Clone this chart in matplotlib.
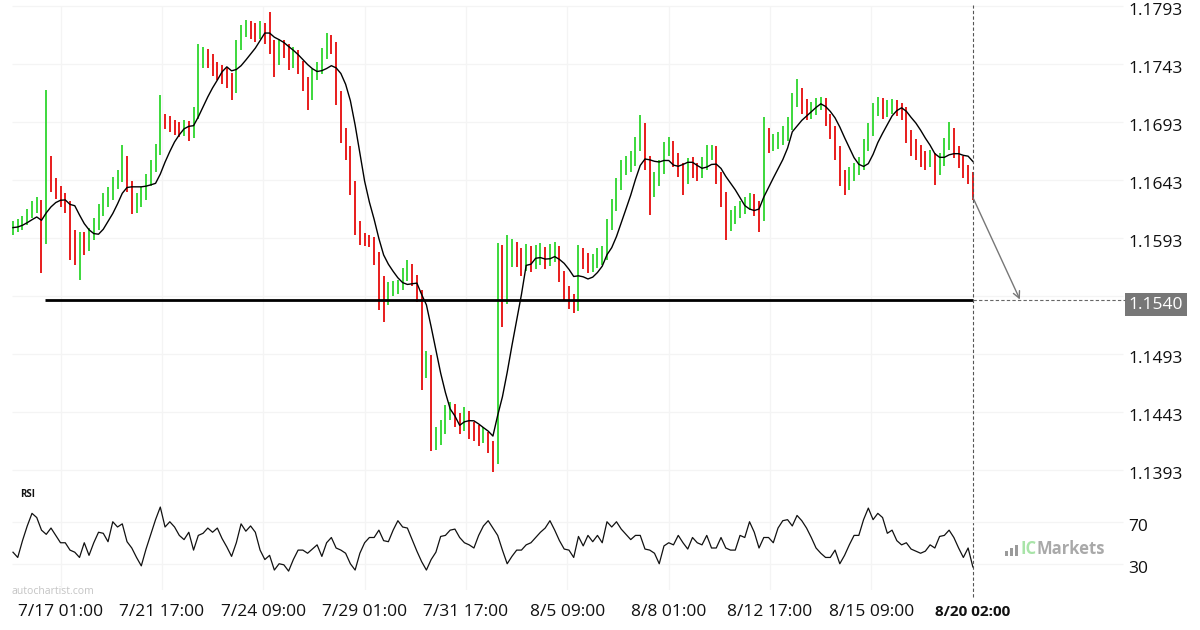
import numpy as np
import pandas as pd
import matplotlib
matplotlib.use('Agg')
import matplotlib.pyplot as plt
from matplotlib import transforms
from matplotlib.patches import Rectangle

plt.rcParams['font.family'] = ['Open Sans', 'DejaVu Sans']

# 3-hour bars, EURUSD-style quotes
close = [
    1.1602, 1.1603, 1.1607, 1.1613, 1.1619, 1.1623, 1.1591, 1.1647, 1.1639, 1.1633,
    1.1627, 1.1621, 1.1596, 1.1583, 1.1591, 1.1587, 1.1596, 1.1604, 1.1617, 1.1626,
    1.1630, 1.1639, 1.1645, 1.1660, 1.1639, 1.1621, 1.1626, 1.1630, 1.1643, 1.1653,
    1.1669, 1.1695, 1.1693, 1.1690, 1.1688, 1.1686, 1.1689, 1.1684, 1.1699, 1.1746,
    1.1751, 1.1748, 1.1740, 1.1736, 1.1734, 1.1729, 1.1722, 1.1759, 1.1771, 1.1774,
    1.1772, 1.1770, 1.1774, 1.1768, 1.1759, 1.1746, 1.1759, 1.1755, 1.1746, 1.1751,
    1.1742, 1.1729, 1.1716, 1.1734, 1.1738, 1.1751, 1.1764, 1.1759, 1.1716, 1.1682,
    1.1669, 1.1639, 1.1604, 1.1593, 1.1591, 1.1590, 1.1578, 1.1553, 1.1540, 1.1548,
    1.1550, 1.1552, 1.1561, 1.1567, 1.1557, 1.1544, 1.1479, 1.1488, 1.1419, 1.1421,
    1.1428, 1.1440, 1.1445, 1.1436, 1.1432, 1.1440, 1.1428, 1.1427, 1.1421, 1.1423,
    1.1415, 1.1402, 1.1565, 1.1540, 1.1574, 1.1583, 1.1576, 1.1570, 1.1578, 1.1572,
    1.1576, 1.1578, 1.1574, 1.1578, 1.1583, 1.1561, 1.1548, 1.1540, 1.1535, 1.1578,
    1.1572, 1.1570, 1.1572, 1.1576, 1.1578, 1.1604, 1.1621, 1.1639, 1.1652, 1.1656,
    1.1660, 1.1673, 1.1688, 1.1660, 1.1634, 1.1643, 1.1652, 1.1669, 1.1673, 1.1660,
    1.1653, 1.1645, 1.1656, 1.1652, 1.1650, 1.1656, 1.1667, 1.1669, 1.1647, 1.1630,
    1.1604, 1.1610, 1.1615, 1.1619, 1.1622, 1.1626, 1.1621, 1.1613, 1.1682, 1.1673,
    1.1676, 1.1677, 1.1682, 1.1690, 1.1712, 1.1716, 1.1708, 1.1702, 1.1703, 1.1708,
    1.1712, 1.1696, 1.1686, 1.1669, 1.1647, 1.1639, 1.1647, 1.1652, 1.1656, 1.1673,
    1.1686, 1.1703, 1.1710, 1.1703, 1.1705, 1.1708, 1.1705, 1.1703, 1.1682, 1.1673,
    1.1669, 1.1662, 1.1660, 1.1662, 1.1652, 1.1660, 1.1673, 1.1684, 1.1669, 1.1660,
    1.1652, 1.1647, 1.1628,
]
high = [
    1.1608, 1.1609, 1.1612, 1.1618, 1.1625, 1.1628, 1.1626, 1.1721, 1.1664, 1.1645,
    1.1638, 1.1632, 1.1625, 1.1600, 1.1598, 1.1598, 1.1602, 1.1610, 1.1622, 1.1632,
    1.1637, 1.1646, 1.1652, 1.1673, 1.1664, 1.1642, 1.1632, 1.1637, 1.1648, 1.1660,
    1.1674, 1.1716, 1.1700, 1.1698, 1.1695, 1.1693, 1.1695, 1.1694, 1.1706, 1.1760,
    1.1758, 1.1756, 1.1752, 1.1745, 1.1742, 1.1740, 1.1735, 1.1764, 1.1777, 1.1781,
    1.1780, 1.1778, 1.1780, 1.1778, 1.1788, 1.1764, 1.1765, 1.1764, 1.1760, 1.1758,
    1.1755, 1.1746, 1.1732, 1.1739, 1.1745, 1.1757, 1.1770, 1.1768, 1.1762, 1.1720,
    1.1688, 1.1672, 1.1642, 1.1608, 1.1597, 1.1596, 1.1594, 1.1581, 1.1560, 1.1555,
    1.1556, 1.1557, 1.1567, 1.1574, 1.1571, 1.1561, 1.1548, 1.1496, 1.1492, 1.1430,
    1.1436, 1.1449, 1.1452, 1.1450, 1.1442, 1.1447, 1.1444, 1.1434, 1.1432, 1.1430,
    1.1426, 1.1418, 1.1589, 1.1587, 1.1596, 1.1592, 1.1590, 1.1584, 1.1588, 1.1586,
    1.1587, 1.1589, 1.1585, 1.1588, 1.1590, 1.1586, 1.1565, 1.1552, 1.1545, 1.1587,
    1.1584, 1.1580, 1.1579, 1.1584, 1.1586, 1.1609, 1.1627, 1.1645, 1.1660, 1.1664,
    1.1668, 1.1680, 1.1699, 1.1692, 1.1664, 1.1650, 1.1660, 1.1676, 1.1680, 1.1677,
    1.1666, 1.1658, 1.1662, 1.1663, 1.1658, 1.1663, 1.1673, 1.1673, 1.1672, 1.1650,
    1.1633, 1.1617, 1.1621, 1.1625, 1.1628, 1.1632, 1.1631, 1.1625, 1.1697, 1.1688,
    1.1683, 1.1684, 1.1690, 1.1697, 1.1718, 1.1730, 1.1722, 1.1713, 1.1710, 1.1714,
    1.1715, 1.1714, 1.1700, 1.1690, 1.1672, 1.1652, 1.1654, 1.1658, 1.1663, 1.1678,
    1.1692, 1.1709, 1.1715, 1.1714, 1.1712, 1.1713, 1.1712, 1.1709, 1.1706, 1.1686,
    1.1678, 1.1673, 1.1668, 1.1669, 1.1666, 1.1666, 1.1679, 1.1693, 1.1688, 1.1672,
    1.1664, 1.1656, 1.1650,
]
low = [
    1.1596, 1.1598, 1.1600, 1.1604, 1.1610, 1.1615, 1.1563, 1.1588, 1.1633, 1.1627,
    1.1620, 1.1615, 1.1574, 1.1570, 1.1557, 1.1578, 1.1582, 1.1591, 1.1600, 1.1612,
    1.1620, 1.1626, 1.1635, 1.1641, 1.1633, 1.1614, 1.1615, 1.1620, 1.1626, 1.1638,
    1.1650, 1.1665, 1.1687, 1.1684, 1.1682, 1.1680, 1.1681, 1.1677, 1.1679, 1.1696,
    1.1740, 1.1740, 1.1733, 1.1729, 1.1726, 1.1722, 1.1712, 1.1718, 1.1755, 1.1766,
    1.1765, 1.1762, 1.1765, 1.1760, 1.1752, 1.1732, 1.1742, 1.1748, 1.1738, 1.1740,
    1.1734, 1.1720, 1.1703, 1.1712, 1.1729, 1.1734, 1.1747, 1.1752, 1.1708, 1.1675,
    1.1660, 1.1630, 1.1596, 1.1587, 1.1586, 1.1585, 1.1570, 1.1531, 1.1521, 1.1535,
    1.1543, 1.1545, 1.1548, 1.1556, 1.1552, 1.1538, 1.1462, 1.1472, 1.1409, 1.1410,
    1.1415, 1.1424, 1.1436, 1.1430, 1.1424, 1.1427, 1.1420, 1.1418, 1.1414, 1.1416,
    1.1408, 1.1391, 1.1398, 1.1516, 1.1536, 1.1568, 1.1568, 1.1560, 1.1565, 1.1564,
    1.1566, 1.1570, 1.1566, 1.1569, 1.1572, 1.1555, 1.1540, 1.1532, 1.1528, 1.1530,
    1.1566, 1.1563, 1.1564, 1.1567, 1.1570, 1.1574, 1.1600, 1.1616, 1.1634, 1.1647,
    1.1650, 1.1655, 1.1668, 1.1652, 1.1613, 1.1628, 1.1638, 1.1648, 1.1664, 1.1654,
    1.1646, 1.1630, 1.1640, 1.1645, 1.1642, 1.1645, 1.1652, 1.1660, 1.1640, 1.1620,
    1.1591, 1.1599, 1.1605, 1.1610, 1.1614, 1.1617, 1.1612, 1.1598, 1.1608, 1.1666,
    1.1668, 1.1670, 1.1673, 1.1677, 1.1686, 1.1706, 1.1700, 1.1695, 1.1696, 1.1699,
    1.1703, 1.1690, 1.1678, 1.1660, 1.1638, 1.1630, 1.1634, 1.1642, 1.1647, 1.1652,
    1.1668, 1.1681, 1.1698, 1.1696, 1.1697, 1.1700, 1.1698, 1.1695, 1.1675, 1.1664,
    1.1660, 1.1654, 1.1652, 1.1654, 1.1639, 1.1647, 1.1655, 1.1669, 1.1662, 1.1653,
    1.1645, 1.1640, 1.1626,
]
first_open = 1.1600
rsi = [
    41, 36, 52, 66, 78, 74, 62, 58, 64, 57,
    50, 50, 43, 41, 36, 50, 38, 50, 60, 59,
    51, 70, 65, 68, 51, 45, 36, 28, 44, 58,
    72, 84, 65, 70, 65, 57, 53, 60, 43, 57,
    59, 64, 60, 64, 54, 46, 37, 50, 68, 61,
    66, 60, 43, 34, 38, 24, 30, 29, 23, 34,
    43, 43, 40, 44, 48, 37, 50, 55, 45, 43,
    40, 30, 24, 40, 50, 55, 55, 62, 52, 51,
    62, 71, 65, 64, 53, 42, 32, 24, 34, 41,
    56, 57, 62, 63, 55, 50, 48, 45, 57, 66,
    71, 64, 57, 43, 30, 37, 43, 43, 48, 50,
    55, 60, 64, 71, 62, 52, 44, 43, 36, 56,
    47, 57, 51, 57, 50, 70, 65, 70, 63, 58,
    53, 57, 57, 44, 43, 40, 30, 47, 50, 48,
    57, 50, 44, 55, 50, 48, 57, 45, 45, 55,
    45, 43, 43, 57, 55, 70, 60, 45, 55, 55,
    50, 64, 71, 72, 66, 76, 71, 64, 55, 45,
    40, 36, 36, 43, 30, 38, 48, 57, 57, 72,
    83, 72, 78, 74, 59, 62, 52, 48, 50, 44,
    42, 40, 42, 48, 45, 56, 57, 62, 55, 45,
    36, 45, 27,
]

tick_hours = [30, 94, 158, 222, 286, 350, 414, 478, 542, 606]
tick_labels = ['7/17 01:00', '7/21 17:00', '7/24 09:00', '7/29 01:00', '7/31 17:00',
               '8/5 09:00', '8/8 01:00', '8/12 17:00', '8/15 09:00', '8/20 02:00']
price_ticks = [1.1393, 1.1443, 1.1493, 1.1543, 1.1593, 1.1643, 1.1693, 1.1743, 1.1793]
rsi_ticks = [30, 70]
level = 1.1540

n = min(len(close), len(high), len(low), len(rsi))
hours = np.arange(n) * 3
close = np.array(close[:n])
opens = np.concatenate([[first_open], close[:-1]])
colors = np.where(close >= opens, '#3cd83c', '#e81c1c')
ma = pd.Series(close).rolling(7, min_periods=1).mean()

fig = plt.figure(figsize=(12, 6.3), dpi=100)
xlim = (-8.2, 749.4)
ax = fig.add_axes([0, 1 - 485 / 630, 1, 485 / 630])
ax.set_xlim(*xlim)
ax.set_ylim(1.13801, 1.17982)
ax.axis('off')

rax = fig.add_axes([0, 40 / 630, 1, 105 / 630])
rax.set_xlim(*xlim)
rax.set_ylim(5, 105)
rax.axis('off')

grid_c = '#f4f4f4'
ax.hlines(price_ticks, -0.6, 700.8, color=grid_c, lw=0.9, zorder=0)
rax.hlines(rsi_ticks, -0.6, 700.8, color=grid_c, lw=0.9, zorder=0)
for h in tick_hours[:-1]:
    ax.axvline(h, 0, 0.985, color=grid_c, lw=0.9, zorder=0)
    rax.axvline(h, 0, 1, color=grid_c, lw=0.9, zorder=0)

# price bars and moving average
ax.vlines(hours, low[:n], high[:n], colors=colors, lw=1.4, zorder=2)
ax.plot(hours, ma, color='black', lw=1.0, zorder=3)

# target level
ax.hlines(level, 20.5, hours[-1], color='black', lw=2.0, zorder=4)
ax.hlines(level, hours[-1], 702, color='#666666', lw=0.8, linestyles=(0, (3, 2)), zorder=4)
ax.axvline(hours[-1], -0.231, 0.99, color='#555555', lw=0.8, linestyle=(0, (3, 2)),
           clip_on=False, zorder=4)
ax.annotate('', xy=(635.7, level), xytext=(hours[-1], close[-1]),
            arrowprops=dict(arrowstyle='->', color='#777777', lw=1.0,
                            mutation_scale=12, shrinkA=0, shrinkB=0))

# right-hand labels
lab_x = 703.9
down = transforms.offset_copy(ax.transData, fig=fig, x=0, y=-5, units='dots')
for p in price_ticks:
    if abs(p - level) < 0.001:
        continue
    ax.text(lab_x, p, f'{p:.4f}', transform=down, ha='left', va='center',
            fontsize=12.5, color='#111111')
ax.text(lab_x + 0.3, level, f'{level:.4f}', transform=down, ha='left', va='center',
        fontsize=12.5, color='white',
        bbox=dict(facecolor='#777777', edgecolor='none', boxstyle='square,pad=0.22'))

rdown = transforms.offset_copy(rax.transData, fig=fig, x=0, y=-5, units='dots')
for r in rsi_ticks:
    rax.text(lab_x, r, str(r), transform=rdown, ha='left', va='center',
             fontsize=12.5, color='#111111')

# rsi line
rax.plot(hours, rsi[:n], color='#111111', lw=0.9)
rax.text(4.4, 96.4, 'RSI', fontsize=7, fontweight='bold', color='#111111', va='center')

# time axis labels
for h, lab in zip(tick_hours, tick_labels):
    last = h == tick_hours[-1]
    rax.text(h, -0.21, lab, transform=transforms.blended_transform_factory(rax.transData, rax.transAxes),
             ha='center', va='center', fontsize=11 if last else 12.5,
             fontweight='bold' if last else 'normal', color='#111111')

fig.text(12 / 1200, 1 - 591 / 630, 'autochartist.com', fontsize=7.5, color='#c4c4c4',
         va='center', ha='left')

# IC Markets mark
for k, hgt in enumerate([5, 8, 11]):
    fig.patches.append(Rectangle(((1005 + k * 5) / 1200, (630 - 556) / 630), 3 / 1200, hgt / 630,
                                 transform=fig.transFigure, facecolor='#9a9a9a', edgecolor='none'))
fig.text(1020 / 1200, 1 - 549 / 630, 'IC', fontsize=12, fontweight='bold', color='#a8e4a8',
         va='center', ha='left')
fig.text(1037 / 1200, 1 - 549 / 630, 'Markets', fontsize=12, fontweight='bold', color='#a9a9a9',
         va='center', ha='left')

fig.savefig('out.png', dpi=100)
